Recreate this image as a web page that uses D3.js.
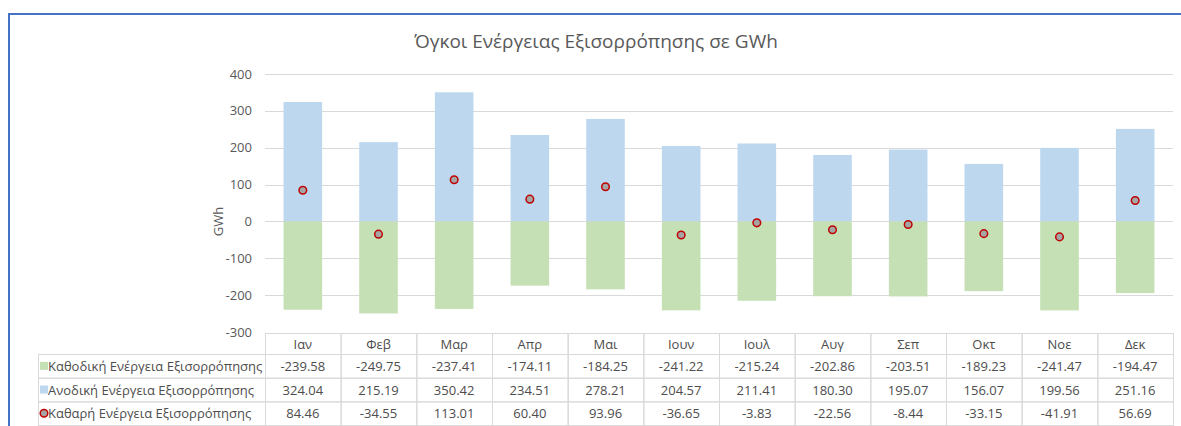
<!DOCTYPE html>
<html>
<head>
<meta charset="utf-8">
<script src="https://cdn.jsdelivr.net/npm/d3@7"></script>
<style>
    html, body { margin: 0; padding: 0; background: #fff; }
    svg { display: block; font-family: "Open Sans", "Noto Sans", sans-serif; }
    .grid line { stroke: #d9d9d9; }
    .tick-label { fill: #595959; font-size: 13px; }
    .cell { fill: #4d4d4d; font-size: 13px; }
</style>
</head>
<body>
<svg id="chart" width="1181" height="426"></svg>
<script>
// Monthly balancing energy volumes (GWh)
const months = ["Ιαν", "Φεβ", "Μαρ", "Απρ", "Μαι", "Ιουν", "Ιουλ", "Αυγ", "Σεπ", "Οκτ", "Νοε", "Δεκ"];
const downward = [-239.58, -249.75, -237.41, -174.11, -184.25, -241.22, -215.24, -202.86, -203.51, -189.23, -241.47, -194.47];
const upward = [324.04, 215.19, 350.42, 234.51, 278.21, 204.57, 211.41, 180.30, 195.07, 156.07, 199.56, 251.16];
const net = [84.46, -34.55, 113.01, 60.40, 93.96, -36.65, -3.83, -22.56, -8.44, -33.15, -41.91, 56.69];
const yTicks = [400, 300, 200, 100, 0, -100, -200, -300];

const seriesNames = [
    "Καθοδική Ενέργεια Εξισορρόπησης",
    "Ανοδική Ενέργεια Εξισορρόπησης",
    "Καθαρή Ενέργεια Εξισορρόπησης"
];

const svg = d3.select("#chart");

const plotLeft = 265, plotRight = 1173;
const plotTop = 74, plotBottom = 332;

const x = d3.scaleBand()
    .domain(months)
    .range([plotLeft, plotRight])
    .paddingInner(0.49)
    .paddingOuter(0.245);

const xCol = d3.scaleBand()
    .domain(months)
    .range([plotLeft, plotRight]);

const y = d3.scaleLinear()
    .domain([-300, 400])
    .range([plotBottom, plotTop]);

// chart frame (only top and left edges visible)
svg.append("line")
    .attr("x1", 8).attr("x2", 1181).attr("y1", 14).attr("y2", 14)
    .attr("stroke", "#4472c4").attr("stroke-width", 2);
svg.append("line")
    .attr("x1", 9).attr("x2", 9).attr("y1", 13).attr("y2", 426)
    .attr("stroke", "#4472c4").attr("stroke-width", 2);

// title
svg.append("text")
    .attr("x", 596)
    .attr("y", 48)
    .attr("text-anchor", "middle")
    .attr("fill", "#595959")
    .style("font-size", "19px")
    .text("Όγκοι Ενέργειας Εξισορρόπησης σε GWh");

// gridlines
const grid = svg.append("g").attr("class", "grid");
grid.selectAll("line")
    .data(yTicks.filter(t => t > -300))
    .join("line")
    .attr("x1", plotLeft).attr("x2", plotRight)
    .attr("y1", d => Math.round(y(d)) + 0.5)
    .attr("y2", d => Math.round(y(d)) + 0.5);

// y tick labels
svg.append("g")
    .selectAll("text")
    .data(yTicks)
    .join("text")
    .attr("class", "tick-label")
    .attr("x", 252)
    .attr("y", d => y(d) + 4.5)
    .attr("text-anchor", "end")
    .text(d => d);

// y axis title
svg.append("text")
    .attr("transform", `translate(223,${y(0)}) rotate(-90)`)
    .attr("text-anchor", "middle")
    .attr("fill", "#595959")
    .style("font-size", "13px")
    .text("GWh");

// bars
svg.append("g")
    .selectAll("rect")
    .data(months)
    .join("rect")
    .attr("x", d => x(d))
    .attr("width", x.bandwidth())
    .attr("y", (d, i) => y(upward[i]))
    .attr("height", (d, i) => y(0) - y(upward[i]))
    .attr("fill", "#bdd7ee");

svg.append("g")
    .selectAll("rect")
    .data(months)
    .join("rect")
    .attr("x", d => x(d))
    .attr("width", x.bandwidth())
    .attr("y", y(0))
    .attr("height", (d, i) => y(downward[i]) - y(0))
    .attr("fill", "#c5e0b4");

// net markers
svg.append("g")
    .selectAll("circle")
    .data(months)
    .join("circle")
    .attr("cx", d => x(d) + x.bandwidth() / 2)
    .attr("cy", (d, i) => y(net[i]))
    .attr("r", 3.8)
    .attr("fill", "#a5a5a5")
    .attr("stroke", "#c00000")
    .attr("stroke-width", 1.5);

// data table
const tableTop = 333, headerH = 21, rowH = 23.7;
const legendLeft = 38;
const rows = [downward, upward, net];
const table = svg.append("g").attr("stroke", "#d9d9d9").attr("fill", "none");

// header cells
table.selectAll(".hdr")
    .data(months)
    .join("rect")
    .attr("x", d => xCol(d) + 0.5)
    .attr("y", tableTop + 0.5)
    .attr("width", xCol.bandwidth())
    .attr("height", headerH);

rows.forEach((vals, r) => {
    const top = tableTop + headerH + r * rowH;
    table.append("rect")
        .attr("x", legendLeft + 0.5)
        .attr("y", top + 0.5)
        .attr("width", plotLeft - legendLeft)
        .attr("height", rowH);
    table.selectAll(null)
        .data(months)
        .join("rect")
        .attr("x", d => xCol(d) + 0.5)
        .attr("y", top + 0.5)
        .attr("width", xCol.bandwidth())
        .attr("height", rowH);
});

svg.append("g")
    .selectAll("text")
    .data(months)
    .join("text")
    .attr("class", "cell")
    .attr("x", d => xCol(d) + xCol.bandwidth() / 2)
    .attr("y", tableTop + 16)
    .attr("text-anchor", "middle")
    .text(d => d);

rows.forEach((vals, r) => {
    const top = tableTop + headerH + r * rowH;
    svg.append("g")
        .selectAll("text")
        .data(months)
        .join("text")
        .attr("class", "cell")
        .attr("x", d => xCol(d) + xCol.bandwidth() / 2)
        .attr("y", top + 17)
        .attr("text-anchor", "middle")
        .text((d, i) => vals[i].toFixed(2));

    svg.append("text")
        .attr("class", "cell")
        .attr("x", 48)
        .attr("y", top + 17)
        .text(seriesNames[r]);
});

// legend keys
const keyY = r => tableTop + headerH + r * rowH + rowH / 2;
svg.append("rect").attr("x", 40).attr("y", keyY(0) - 4).attr("width", 8).attr("height", 8).attr("fill", "#c5e0b4");
svg.append("rect").attr("x", 40).attr("y", keyY(1) - 4).attr("width", 8).attr("height", 8).attr("fill", "#bdd7ee");
svg.append("circle").attr("cx", 44).attr("cy", keyY(2)).attr("r", 3.8)
    .attr("fill", "#a5a5a5").attr("stroke", "#c00000").attr("stroke-width", 1.5);
</script>
</body>
</html>
